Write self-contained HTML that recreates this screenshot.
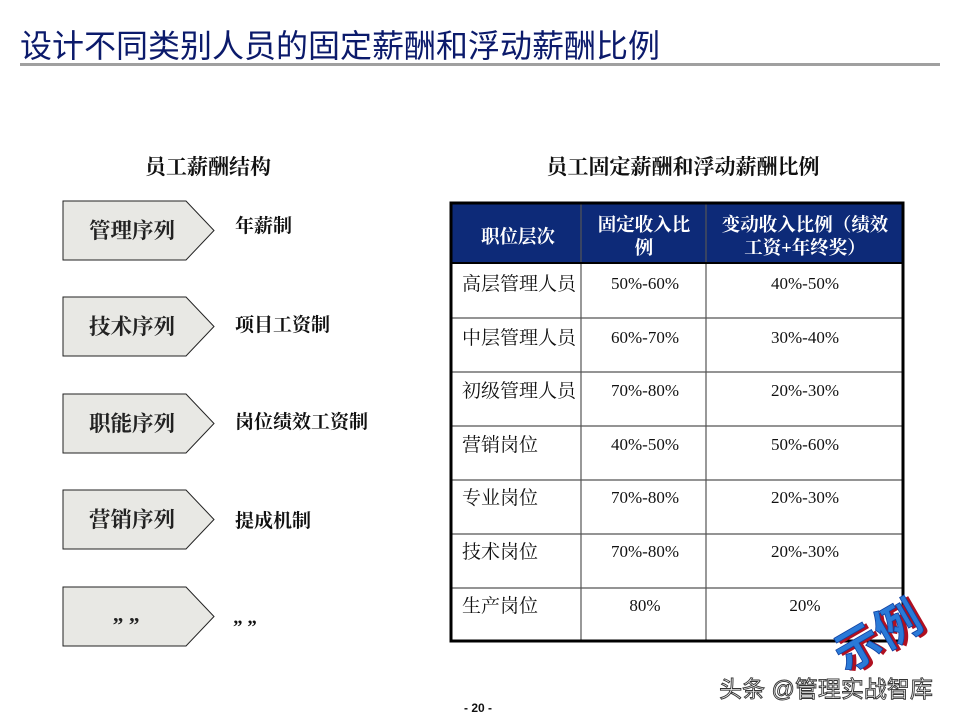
<!DOCTYPE html>
<html><head><meta charset="utf-8"><style>
html,body{margin:0;padding:0;background:#fff;}
svg{display:block;}
.s{font-family:"Liberation Serif","Noto Serif CJK SC",serif;}
.ss{font-family:"Liberation Sans","Noto Sans CJK SC",sans-serif;}
</style></head><body>
<svg width="960" height="720" viewBox="0 0 960 720" xmlns="http://www.w3.org/2000/svg">
<text x="20" y="57" class="ss" font-size="32" fill="#0b1a6b">设计不同类别人员的固定薪酬和浮动薪酬比例</text>
<rect x="20" y="63" width="920" height="3" fill="#a0a0a0"/>
<text x="208" y="174" class="s" font-size="21" font-weight="bold" text-anchor="middle" fill="#111">员工薪酬结构</text>
<text x="683" y="174" class="s" font-size="21" font-weight="bold" text-anchor="middle" fill="#111">员工固定薪酬和浮动薪酬比例</text>
<g stroke="#222" stroke-width="1" fill="#e8e8e4">
<polygon points="63,201 186,201 214,230.5 186,260 63,260"/>
<polygon points="63,297 186,297 214,326.5 186,356 63,356"/>
<polygon points="63,394 186,394 214,423.5 186,453 63,453"/>
<polygon points="63,490 186,490 214,519.5 186,549 63,549"/>
<polygon points="63,587 186,587 214,616.5 186,646 63,646"/>
</g>
<g class="s" font-size="21.5" font-weight="bold" fill="#222" text-anchor="middle">
<text x="132" y="238">管理序列</text>
<text x="132" y="334">技术序列</text>
<text x="132" y="431">职能序列</text>
<text x="132" y="527">营销序列</text>
<text x="126" y="632">” ”</text>
</g>
<g class="s" font-size="19" font-weight="bold" fill="#111">
<text x="235" y="232">年薪制</text>
<text x="235" y="331">项目工资制</text>
<text x="235" y="428">岗位绩效工资制</text>
<text x="235" y="527">提成机制</text>
<text x="233" y="633">” ”</text>
</g>
<rect x="451" y="203" width="452" height="60" fill="#0d2a78"/>
<g stroke="#555" stroke-width="1.2">
<line x1="451" y1="318" x2="903" y2="318"/>
<line x1="451" y1="372" x2="903" y2="372"/>
<line x1="451" y1="426" x2="903" y2="426"/>
<line x1="451" y1="480" x2="903" y2="480"/>
<line x1="451" y1="534" x2="903" y2="534"/>
<line x1="451" y1="588" x2="903" y2="588"/>
<line x1="581" y1="203" x2="581" y2="641"/>
<line x1="706" y1="203" x2="706" y2="641"/>
</g>
<line x1="451" y1="263" x2="903" y2="263" stroke="#000" stroke-width="2"/>
<rect x="451" y="203" width="452" height="438" fill="none" stroke="#000" stroke-width="3"/>
<g class="s" font-size="18.5" font-weight="bold" fill="#fff" text-anchor="middle">
<text x="518" y="243">职位层次</text>
<text x="644" y="231">固定收入比</text>
<text x="644" y="254">例</text>
<text x="805" y="231">变动收入比例（绩效</text>
<text x="805" y="254">工资+年终奖）</text>
</g>
<g class="s" font-size="19" fill="#111">
<text x="462" y="290">高层管理人员</text>
<text x="462" y="344">中层管理人员</text>
<text x="462" y="397">初级管理人员</text>
<text x="462" y="451">营销岗位</text>
<text x="462" y="504">专业岗位</text>
<text x="462" y="558">技术岗位</text>
<text x="462" y="612">生产岗位</text>
</g>
<g class="s" font-size="17" fill="#111" text-anchor="middle">
<text x="645" y="289">50%-60%</text><text x="805" y="289">40%-50%</text>
<text x="645" y="343">60%-70%</text><text x="805" y="343">30%-40%</text>
<text x="645" y="396">70%-80%</text><text x="805" y="396">20%-30%</text>
<text x="645" y="450">40%-50%</text><text x="805" y="450">50%-60%</text>
<text x="645" y="503">70%-80%</text><text x="805" y="503">20%-30%</text>
<text x="645" y="557">70%-80%</text><text x="805" y="557">20%-30%</text>
<text x="645" y="611">80%</text><text x="805" y="611">20%</text>
</g>
<g transform="translate(886,650) rotate(-30)" class="ss" font-size="46" font-weight="bold" text-anchor="middle">
<text x="3" y="3" fill="#b01020">示例</text>
<text x="0" y="0" fill="#2a7ad8" stroke="#1040a0" stroke-width="0.8">示例</text>
</g>
<text x="826" y="697" class="ss" font-size="23" fill="#f4f4f4" stroke="#333" stroke-width="0.9" text-anchor="middle">头条 @管理实战智库</text>
<text x="478" y="712" class="ss" font-size="12" font-weight="bold" fill="#111" text-anchor="middle">- 20 -</text>
</svg>
</body></html>
